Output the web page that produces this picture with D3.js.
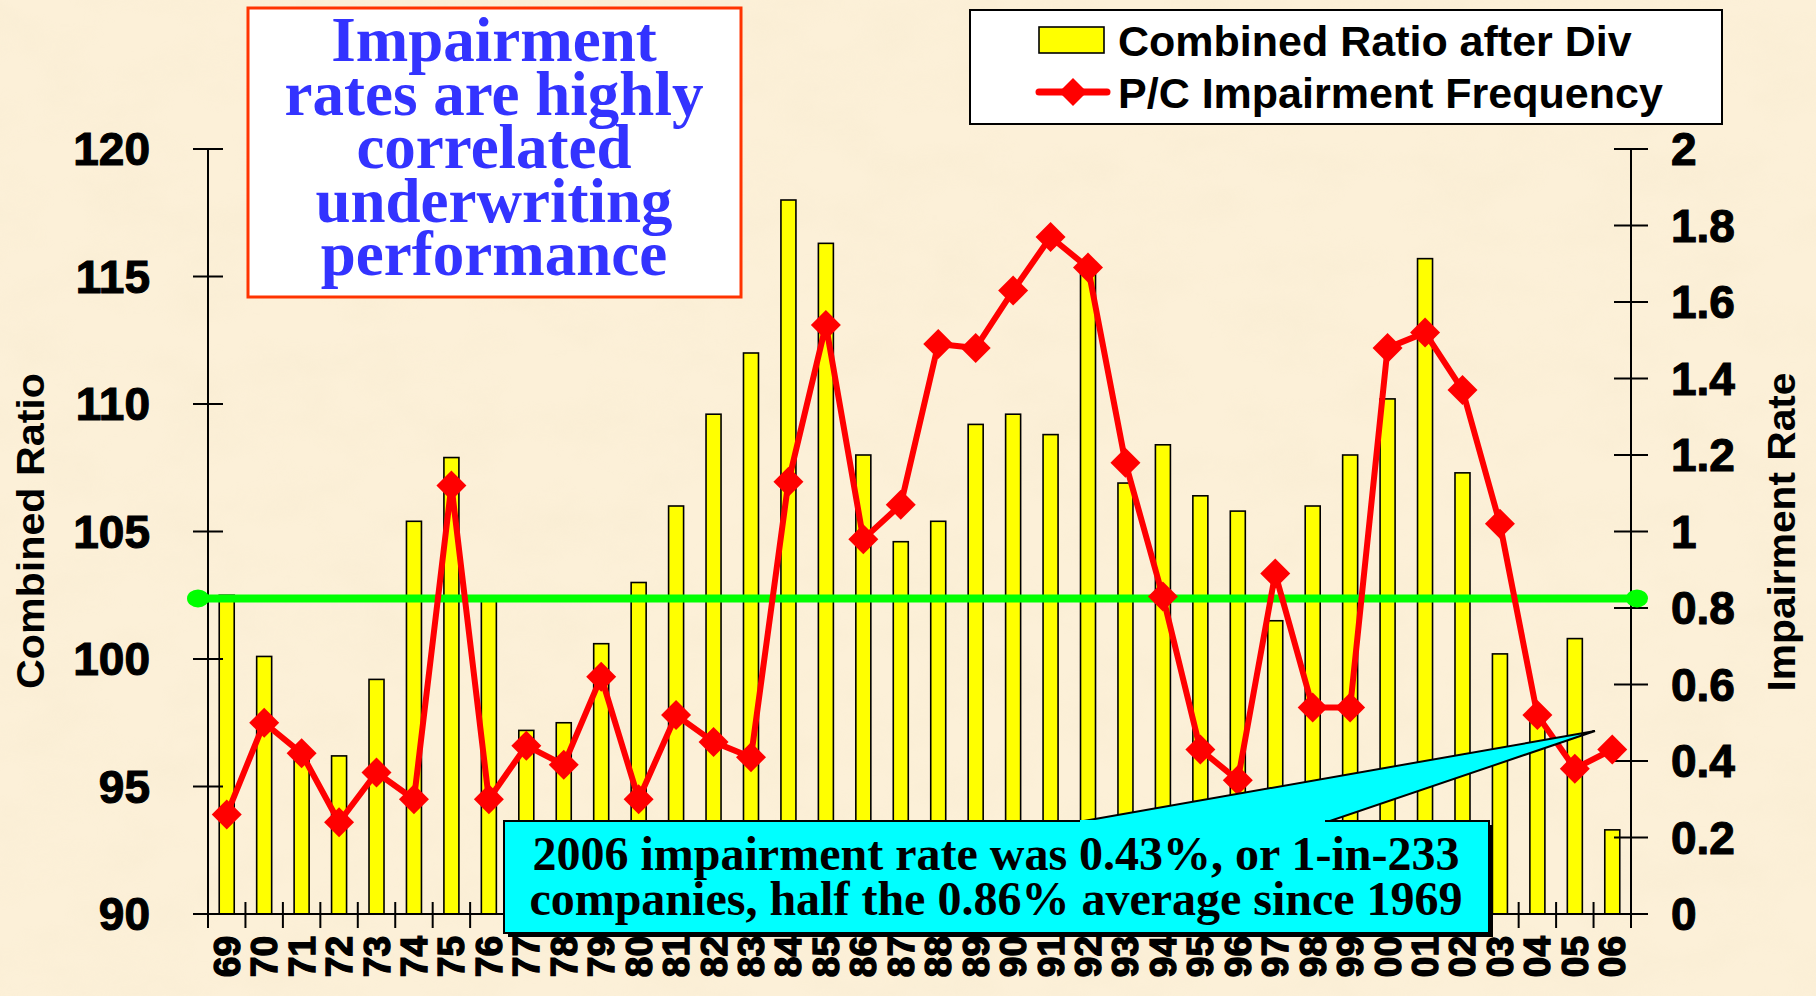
<!DOCTYPE html>
<html>
<head>
  <meta charset="utf-8">
  <title>Impairment rates vs combined ratio</title>
  <script type="text/javascript" src="https://d3js.org/d3.v7.min.js"></script>
  <style>
    body { margin: 0; background: #faedd3; }
    svg { display: block; }
    .tick-label { font-family: "Liberation Sans", Arial, sans-serif; font-weight: bold; fill: #000; stroke: #000; stroke-width: 1.1px; }
  </style>
</head>
<body>
<div id="chart"></div>
<script type="text/javascript">
  // data
  var years = ["69","70","71","72","73","74","75","76","77","78","79",
               "80","81","82","83","84","85","86","87","88","89",
               "90","91","92","93","94","95","96","97","98","99",
               "00","01","02","03","04","05","06"];
  var combinedRatio = [102.5, 100.1, 96.2, 96.2, 99.2, 105.4, 107.9, 102.4, 97.2, 97.5, 100.6,
                       103.0, 106.0, 109.6, 112.0, 118.0, 116.3, 108.0, 104.6, 105.4, 109.2,
                       109.6, 108.8, 115.1, 106.9, 108.4, 106.4, 105.8, 101.5, 106.0, 108.0,
                       110.2, 115.7, 107.3, 100.2, 97.8, 100.8, 93.3];
  var impairment = [0.26, 0.50, 0.42, 0.24, 0.37, 0.30, 1.12, 0.30, 0.44, 0.39, 0.62,
                    0.30, 0.52, 0.45, 0.41, 1.13, 1.54, 0.98, 1.07, 1.49, 1.48,
                    1.63, 1.77, 1.69, 1.18, 0.83, 0.43, 0.35, 0.89, 0.54, 0.54,
                    1.48, 1.52, 1.37, 1.02, 0.52, 0.38, 0.43];
  var avgRate = 0.825;
  var leftTicks = [90, 95, 100, 105, 110, 115, 120];
  var rightTicks = [0, 0.2, 0.4, 0.6, 0.8, 1, 1.2, 1.4, 1.6, 1.8, 2];
  var titleLines = ["Impairment", "rates are highly", "correlated", "underwriting", "performance"];
  var noteLines = ["2006 impairment rate was 0.43%, or 1-in-233",
                   "companies, half the 0.86% average since 1969"];
  var legendLabels = ["Combined Ratio after Div", "P/C Impairment Frequency"];

  var w = 1816;
  var h = 996;
  var x0 = 208, x1 = 1631, yTop = 149, yBot = 914;

  var svg = d3.select("#chart")
              .append("svg")
              .attr("width", w)
              .attr("height", h);

  // parchment background
  var defs = svg.append("defs");
  var f = defs.append("filter").attr("id", "paper")
              .attr("x", 0).attr("y", 0).attr("width", "100%").attr("height", "100%");
  f.append("feTurbulence").attr("type", "fractalNoise")
   .attr("baseFrequency", "0.012 0.02").attr("numOctaves", 4).attr("seed", 7);
  f.append("feColorMatrix").attr("type", "matrix")
   .attr("values", "0 0 0 0 0.86  0 0 0 0 0.76  0 0 0 0 0.55  0 0 0 -0.9 0.55");
  svg.append("rect").attr("width", w).attr("height", h).attr("fill", "#fcf0d8");
  svg.append("rect").attr("width", w).attr("height", h).attr("filter", "url(#paper)").attr("opacity", 0.35);

  var xScale = d3.scaleBand().domain(years).range([x0, x1]).padding(0);
  var yLeft = d3.scaleLinear().domain([90, 120]).range([yBot, yTop]);
  var yRight = d3.scaleLinear().domain([0, 2]).range([yBot, yTop]);

  // bars
  var barW = 15;
  svg.selectAll("rect.bar")
     .data(combinedRatio)
     .enter()
     .append("rect")
     .attr("class", "bar")
     .attr("x", function(d, i) {return xScale(years[i]) + xScale.bandwidth() / 2 - barW / 2;})
     .attr("y", function(d) {return yLeft(d);})
     .attr("width", barW)
     .attr("height", function(d) {return yLeft(90) - yLeft(d);})
     .attr("fill", "#ffff00")
     .attr("stroke", "#000")
     .attr("stroke-width", 1.6);

  // axes lines and ticks
  var axisG = svg.append("g").attr("stroke", "#000").attr("stroke-width", 2);
  axisG.append("line").attr("x1", x0).attr("x2", x0).attr("y1", yTop).attr("y2", yBot + 14);
  axisG.append("line").attr("x1", x1).attr("x2", x1).attr("y1", yTop).attr("y2", yBot + 14);
  axisG.append("line").attr("x1", x0 - 15).attr("x2", x1 + 17).attr("y1", yBot).attr("y2", yBot);
  axisG.selectAll("line.lt").data(leftTicks).enter().append("line")
       .attr("x1", x0 - 15).attr("x2", x0 + 15)
       .attr("y1", function(d) {return yLeft(d);}).attr("y2", function(d) {return yLeft(d);});
  axisG.selectAll("line.rt").data(rightTicks).enter().append("line")
       .attr("x1", x1 - 17).attr("x2", x1 + 17)
       .attr("y1", function(d) {return yRight(d);}).attr("y2", function(d) {return yRight(d);});
  axisG.selectAll("line.ct").data(years.slice(1)).enter().append("line")
       .attr("x1", function(d) {return xScale(d);}).attr("x2", function(d) {return xScale(d);})
       .attr("y1", yBot - 12).attr("y2", yBot + 14);

  // tick labels
  svg.selectAll("text.ly").data(leftTicks).enter().append("text")
     .attr("class", "tick-label")
     .attr("x", 150).attr("y", function(d) {return yLeft(d) + 16;})
     .attr("text-anchor", "end").attr("font-size", 46)
     .text(function(d) {return d;});
  svg.selectAll("text.ry").data(rightTicks).enter().append("text")
     .attr("class", "tick-label")
     .attr("x", 1671).attr("y", function(d) {return yRight(d) + 16;})
     .attr("font-size", 46)
     .text(function(d) {return d3.format("")(+d.toFixed(1));});
  svg.selectAll("text.xl").data(years).enter().append("text")
     .attr("class", "tick-label")
     .attr("transform", function(d) {
       return "translate(" + (xScale(d) + xScale.bandwidth() / 2 + 13) + ",936) rotate(-90)";
     })
     .attr("text-anchor", "end").attr("font-size", 37)
     .style("stroke-width", "1.4px")
     .text(function(d) {return d;});

  // axis titles
  svg.append("text")
     .attr("transform", "translate(44,531) rotate(-90)")
     .attr("text-anchor", "middle")
     .attr("font-family", "Liberation Sans, Arial, sans-serif").attr("font-weight", "bold")
     .attr("font-size", 38).attr("textLength", 316).attr("lengthAdjust", "spacingAndGlyphs")
     .text("Combined Ratio");
  svg.append("text")
     .attr("transform", "translate(1795,532) rotate(-90)")
     .attr("text-anchor", "middle")
     .attr("font-family", "Liberation Sans, Arial, sans-serif").attr("font-weight", "bold")
     .attr("font-size", 38).attr("textLength", 319).attr("lengthAdjust", "spacingAndGlyphs")
     .text("Impairment Rate");

  // average line
  svg.append("line")
     .attr("x1", x0 - 10).attr("x2", x1 + 6)
     .attr("y1", yRight(avgRate)).attr("y2", yRight(avgRate))
     .attr("stroke", "#00ff00").attr("stroke-width", 8);
  svg.selectAll("ellipse.dot").data([x0 - 10, x1 + 6]).enter().append("ellipse")
     .attr("cx", function(d) {return d;}).attr("cy", yRight(avgRate))
     .attr("rx", 11).attr("ry", 9).attr("fill", "#00ff00");

  // impairment line
  var line = d3.line()
               .x(function(d, i) {return xScale(years[i]) + xScale.bandwidth() / 2;})
               .y(function(d) {return yRight(d);});
  svg.append("path")
     .datum(impairment)
     .attr("d", line)
     .attr("fill", "none")
     .attr("stroke", "#ff0000")
     .attr("stroke-width", 6)
     .attr("stroke-linejoin", "round");
  var dm = 15;
  svg.selectAll("path.dia").data(impairment).enter().append("path")
     .attr("d", function(d, i) {
       var cx = xScale(years[i]) + xScale.bandwidth() / 2, cy = yRight(d);
       return "M" + cx + "," + (cy - dm) + "L" + (cx + dm) + "," + cy +
              "L" + cx + "," + (cy + dm) + "L" + (cx - dm) + "," + cy + "Z";
     })
     .attr("fill", "#ff0000");

  // title box
  svg.append("rect")
     .attr("x", 248).attr("y", 8).attr("width", 493).attr("height", 289)
     .attr("fill", "#fff").attr("stroke", "#ff3300").attr("stroke-width", 3);
  svg.selectAll("text.title").data(titleLines).enter().append("text")
     .attr("x", 494).attr("y", function(d, i) {return 61 + i * 53.5;})
     .attr("text-anchor", "middle")
     .attr("font-family", "Liberation Serif, Times New Roman, serif").attr("font-weight", "bold")
     .attr("font-size", 63).attr("fill", "#3333ff")
     .text(function(d) {return d;});

  // legend
  svg.append("rect")
     .attr("x", 970).attr("y", 10).attr("width", 752).attr("height", 114)
     .attr("fill", "#fff").attr("stroke", "#000").attr("stroke-width", 2);
  svg.append("rect")
     .attr("x", 1039).attr("y", 27).attr("width", 65).attr("height", 26)
     .attr("fill", "#ffff00").attr("stroke", "#000").attr("stroke-width", 1.6);
  svg.append("line")
     .attr("x1", 1039).attr("x2", 1107).attr("y1", 92).attr("y2", 92)
     .attr("stroke", "#ff0000").attr("stroke-width", 7).attr("stroke-linecap", "round");
  svg.append("path")
     .attr("d", "M1073,78L1087,92L1073,106L1059,92Z").attr("fill", "#ff0000");
  svg.selectAll("text.leg").data(legendLabels).enter().append("text")
     .attr("x", 1118).attr("y", function(d, i) {return 56 + i * 52;})
     .attr("font-family", "Liberation Sans, Arial, sans-serif").attr("font-weight", "bold")
     .attr("font-size", 43)
     .text(function(d) {return d;});

  // callout
  var tail = [[1078, 822], [1595, 731], [1327, 822]];
  svg.append("rect")
     .attr("x", 508).attr("y", 825).attr("width", 985).attr("height", 112).attr("fill", "#000");
  svg.append("polygon")
     .attr("points", tail.map(function(p) {return p.join(",");}).join(" "))
     .attr("fill", "#00ffff").attr("stroke", "#000").attr("stroke-width", 2);
  svg.append("rect")
     .attr("x", 504).attr("y", 821).attr("width", 985).attr("height", 112)
     .attr("fill", "#00ffff").attr("stroke", "#000").attr("stroke-width", 2);
  svg.append("rect")
     .attr("x", 1080).attr("y", 820).attr("width", 245).attr("height", 3).attr("fill", "#00ffff");
  svg.selectAll("text.note").data(noteLines).enter().append("text")
     .attr("x", 996).attr("y", function(d, i) {return 870 + i * 45;})
     .attr("text-anchor", "middle")
     .attr("font-family", "Liberation Serif, Times New Roman, serif").attr("font-weight", "bold")
     .attr("font-size", 48).attr("fill", "#000")
     .text(function(d) {return d;});
</script>
</body>
</html>
